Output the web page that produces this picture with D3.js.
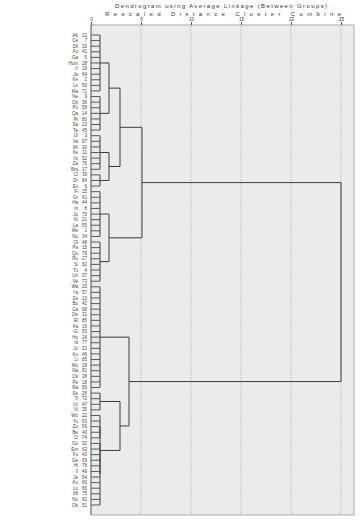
<!DOCTYPE html>
<html>
<head>
<meta charset="utf-8">
<script src="https://cdn.jsdelivr.net/npm/d3@7"></script>
<style>
  body { margin: 0; background: #fff; }
  svg { display: block; font-family: "Liberation Sans", Arial, sans-serif; }
</style>
</head>
<body>
<svg width="360" height="523"></svg>
<script>
// titles and axis
const titleLines = ["Dendrogram using Average Linkage (Between Groups)",
                    "Rescaled Distance Cluster Combine"];
const tickValues = [0, 5, 10, 15, 20, 25];

// case labels, top to bottom
const caseNames = ["Ab","Ce","Dil","Fo","Ga","Hum","Ir","Ja","Ke","Lo",
  "Ma","Ne","Op","Pu","Qa","Ri","Sa","Te","Ul","Va",
  "Wi","Xe","Yo","Za","Bra","Cl","Dr","Ev","Fi","Gr",
  "Ha","In","Jo","Ki","La","Me","No","Ol","Pa","Qu",
  "Ro","Si","Tu","Un","Ve","Wa","Ya","Ze","Bo","Ca",
  "De","El","Fa","Gi","Ho","Id","Ju","Ko","Li","Mo",
  "Na","Os","Pe","Ra","Se","Ti","Ur","Vi","Wo","Yu",
  "Zo","Be","Ci","Du","Em","Fu","Ge","Hi","Il","Je",
  "Ku","Lu","Mi","Nu","Ob"];
const caseNums = [12,7,33,41,5,28,19,64,2,50,
  71,9,36,58,14,80,23,45,3,67,
  30,11,52,76,17,39,84,6,25,61,
  44,8,70,21,55,1,34,48,15,79,
  27,62,4,37,73,20,57,10,42,68,
  31,85,16,53,24,77,13,46,65,29,
  81,38,18,59,26,72,47,35,22,83,
  56,40,74,32,63,43,69,78,49,54,
  60,66,75,82,51];

// leaf groups: name, first case, last case, join distance
const groups = [
  ["g1", 0, 10, 0.9], ["g2", 11, 17, 0.9], ["g3", 18, 24, 0.9],
  ["g4", 25, 27, 0.9], ["g5", 28, 36, 0.9], ["g6", 37, 44, 0.9],
  ["g7", 45, 63, 0.9], ["g8", 64, 67, 0.9], ["g9", 68, 72, 0.9],
  ["g10", 73, 84, 0.9]
];
// merges: name, child 1, child 2, distance
const merges = [
  ["A", "g1", "g2", 1.8], ["B", "g3", "g4", 1.8], ["AB", "A", "B", 2.9],
  ["C", "g5", "g6", 1.8], ["T", "AB", "C", 5.1],
  ["D2b", "g9", "g10", 0.9], ["D2", "g8", "D2b", 2.9], ["D", "g7", "D2", 3.8],
  ["root", "T", "D", 25]
];

const svg = d3.select("svg");
const plotLeft = 91, plotRight = 354, plotTop = 25, plotBottom = 515;

const x = d3.scaleLinear().domain([0, 25]).range([91, 341]);
const y = d3.scaleLinear().domain([0, caseNames.length - 1]).range([35, 505]);

// build tree
const nodes = {};
groups.forEach(([name, a, b, h]) => {
  nodes[name] = { name, height: h, children: d3.range(a, b + 1).map(i => ({ leaf: i, height: 0 })) };
});
merges.forEach(([name, c1, c2, h]) => {
  nodes[name] = { name, height: h, children: [nodes[c1], nodes[c2]] };
});
const root = d3.hierarchy(nodes.root);
root.eachAfter(d => {
  if (!d.children) d.yPos = y(d.data.leaf);
  else {
    const ys = d.children.map(c => c.yPos);
    d.yPos = (d3.min(ys) + d3.max(ys)) / 2;
  }
});

// titles
svg.selectAll(".title").data(titleLines).join("text")
  .attr("x", (d, i) => i ? 223 : 221)
  .attr("y", (d, i) => 8 + i * 8)
  .attr("text-anchor", "middle")
  .attr("font-size", 6)
  .attr("fill", "#333")
  .attr("textLength", (d, i) => i ? 236 : 212)
  .attr("lengthAdjust", "spacing")
  .text(d => d);

// plot background
svg.append("rect")
  .attr("x", plotLeft).attr("y", plotTop)
  .attr("width", plotRight - plotLeft).attr("height", plotBottom - plotTop)
  .attr("fill", "#ebebeb").attr("stroke", "#a8a8a8");

// grid lines
svg.selectAll(".grid").data(tickValues.slice(1)).join("line")
  .attr("x1", d => x(d)).attr("x2", d => x(d))
  .attr("y1", plotTop + 1).attr("y2", plotBottom - 1)
  .attr("stroke", "#d2d2d2").attr("stroke-width", 1.5)
  .attr("stroke-dasharray", "2,1");

// top axis
const axis = svg.append("g").attr("transform", `translate(0,${plotTop})`)
  .call(d3.axisTop(x).tickValues(tickValues).tickSize(3).tickPadding(1));
axis.select(".domain").remove();
axis.selectAll("line").attr("stroke", "#555");
axis.selectAll("text").attr("font-size", 4.5).attr("fill", "#333");

// left leaf axis line
svg.append("line")
  .attr("x1", plotLeft).attr("x2", plotLeft).attr("y1", plotTop).attr("y2", plotBottom)
  .attr("stroke", "#777");

// links
const g = svg.append("g").attr("stroke", "#3c3c3c").attr("stroke-width", 1).attr("fill", "none");
root.descendants().filter(d => d.children).forEach(d => {
  const ys = d.children.map(c => c.yPos);
  g.append("line")
    .attr("x1", x(d.data.height)).attr("x2", x(d.data.height))
    .attr("y1", d3.min(ys)).attr("y2", d3.max(ys));
  d.children.forEach(c => {
    if (x(c.data.height) === x(d.data.height)) return;
    g.append("line")
      .attr("x1", x(c.data.height)).attr("x2", x(d.data.height))
      .attr("y1", c.yPos).attr("y2", c.yPos)
      .attr("stroke", c.children ? "#3c3c3c" : "#5a5a5a");
  });
});

// case labels
const leaves = root.leaves();
svg.selectAll(".cname").data(leaves).join("text")
  .attr("x", 78).attr("y", d => d.yPos + 1.6)
  .attr("text-anchor", "end").attr("font-size", 4.5).attr("fill", "#444")
  .text(d => caseNames[d.data.leaf]);
svg.selectAll(".cnum").data(leaves).join("text")
  .attr("x", 87).attr("y", d => d.yPos + 1.6)
  .attr("text-anchor", "end").attr("font-size", 4.5).attr("fill", "#444")
  .text(d => caseNums[d.data.leaf]);
</script>
</body>
</html>
